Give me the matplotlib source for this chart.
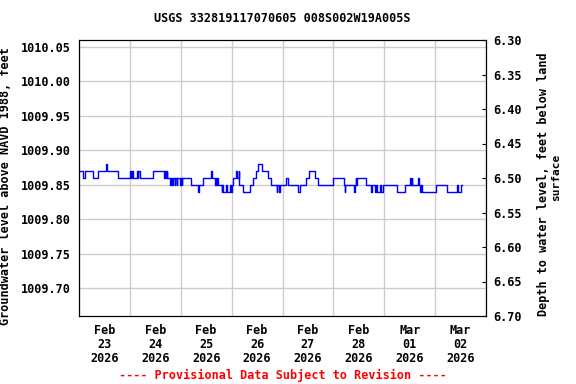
import datetime as dt
import matplotlib
matplotlib.use('Agg')
import matplotlib.pyplot as plt
import matplotlib.dates as mdates

# readings, hours after 2026-02-23 00:00 where the level changes (step series)
hours = [0.0, 2.1, 2.6, 6.7, 8.9, 12.6, 13.3, 18.2, 24.0, 24.4, 25.0, 25.5,
         27.2, 27.6, 28.0, 28.8, 35.0, 40.2, 40.5, 40.9, 41.3, 41.6, 42.9,
         43.4, 43.8, 44.3, 45.1, 45.5, 46.0, 46.4, 47.6, 47.9, 48.4, 48.8,
         52.7, 56.0, 56.7, 58.3, 62.2, 62.6, 64.1, 64.5, 64.8, 65.2, 65.7,
         67.3, 67.6, 68.0, 69.3, 69.6, 71.2, 71.6, 72.3, 72.8, 74.0, 74.4,
         75.3, 75.6, 77.5, 80.6, 82.2, 83.5, 84.5, 86.1, 89.3, 90.4, 93.2,
         93.6, 94.3, 94.6, 97.6, 98.8, 103.5, 104.2, 107.0, 108.6, 111.3,
         112.8, 119.9, 124.9, 125.4, 125.7, 129.7, 130.1, 130.6, 130.9,
         131.3, 135.6, 137.9, 138.3, 139.6, 140.0, 140.5, 141.9, 142.3,
         143.2, 149.8, 153.7, 156.1, 156.4, 157.0, 157.3, 159.8, 160.2,
         160.8, 161.3, 161.7, 168.3, 173.4, 178.1, 178.7, 180.0, 180.7]
levels = [1009.87, 1009.86, 1009.87, 1009.86, 1009.87, 1009.88, 1009.87,
          1009.86, 1009.87, 1009.86, 1009.87, 1009.86, 1009.87, 1009.86,
          1009.87, 1009.86, 1009.87, 1009.86, 1009.87, 1009.86, 1009.87,
          1009.86, 1009.85, 1009.86, 1009.85, 1009.86, 1009.85, 1009.86,
          1009.85, 1009.86, 1009.85, 1009.86, 1009.85, 1009.86, 1009.85,
          1009.84, 1009.85, 1009.86, 1009.87, 1009.86, 1009.85, 1009.86,
          1009.85, 1009.86, 1009.85, 1009.84, 1009.85, 1009.84, 1009.85,
          1009.84, 1009.85, 1009.84, 1009.85, 1009.86, 1009.87, 1009.86,
          1009.87, 1009.85, 1009.84, 1009.85, 1009.86, 1009.87, 1009.88,
          1009.87, 1009.86, 1009.85, 1009.84, 1009.85, 1009.84, 1009.85,
          1009.86, 1009.85, 1009.84, 1009.85, 1009.86, 1009.87, 1009.86,
          1009.85, 1009.86, 1009.85, 1009.84, 1009.85, 1009.84, 1009.85,
          1009.86, 1009.85, 1009.86, 1009.85, 1009.84, 1009.85, 1009.84,
          1009.85, 1009.84, 1009.85, 1009.84, 1009.85, 1009.84, 1009.85,
          1009.86, 1009.85, 1009.86, 1009.85, 1009.86, 1009.85, 1009.84,
          1009.85, 1009.84, 1009.85, 1009.84, 1009.85, 1009.84, 1009.85,
          1009.85]

land_surface = 1016.36
elev_ticks = [1009.70, 1009.75, 1009.80, 1009.85, 1009.90, 1009.95, 1010.00, 1010.05]
depth_ticks = [6.30, 6.35, 6.40, 6.45, 6.50, 6.55, 6.60, 6.65, 6.70]
day_labels = ['Feb\n23\n2026', 'Feb\n24\n2026', 'Feb\n25\n2026', 'Feb\n26\n2026',
              'Feb\n27\n2026', 'Feb\n28\n2026', 'Mar\n01\n2026', 'Mar\n02\n2026']

plt.rcParams['font.family'] = 'DejaVu Sans Mono'
plt.rcParams['font.weight'] = 'bold'
plt.rcParams['axes.labelweight'] = 'bold'
plt.rcParams['font.size'] = 8.5

start = dt.datetime(2026, 2, 23)
times = [start + dt.timedelta(hours=h) for h in hours]

fig = plt.figure(figsize=(5.76, 3.84), dpi=100)
ax = fig.add_axes([79 / 576, 1 - 316 / 384, 407 / 576, 276 / 384])

ax.plot(times, levels, drawstyle='steps-post', color='#0000ff', lw=1)

ax.set_xlim(start, start + dt.timedelta(days=8))
ax.set_ylim(land_surface - 6.70, land_surface - 6.30)

# day boundaries get the grid, labels sit at noon
ax.set_xticks([start + dt.timedelta(days=i) for i in range(9)])
ax.set_xticklabels([])
ax.set_xticks([start + dt.timedelta(days=i, hours=12) for i in range(8)], minor=True)
ax.set_xticklabels(day_labels, minor=True, linespacing=1.1)
ax.tick_params(axis='x', which='both', length=0, pad=6)
ax.set_yticks(elev_ticks)
ax.set_yticklabels([f'{v:.2f}' for v in elev_ticks])
ax.tick_params(axis='y', length=0, pad=6)
ax.grid(True, which='major', color='#cccccc', lw=1)
ax.set_axisbelow(True)

ax.set_ylabel('Groundwater level above NAVD 1988, feet', fontweight='bold')
ax.yaxis.set_label_coords(-0.165, 0.47)

ax2 = ax.twinx()
ax2.set_ylim(6.70, 6.30)
ax2.set_yticks(depth_ticks)
ax2.set_yticklabels([f'{v:.2f}' for v in depth_ticks])
ax2.tick_params(axis='y', direction='in', length=3, pad=5)

fig.text(543 / 576, 1 - 184 / 384, 'Depth to water level, feet below land',
         rotation=90, ha='center', va='center')
fig.text(556 / 576, 1 - 177 / 384, 'surface', rotation=90, ha='center',
         va='center', size=8)

fig.text(282.5 / 576, 1 - 19 / 384, 'USGS 332819117070605 008S002W19A005S',
         ha='center', va='center')
fig.text(282.5 / 576, 1 - 375 / 384, '---- Provisional Data Subject to Revision ----',
         ha='center', va='center', color='red')

fig.savefig('out.png', dpi=100)
